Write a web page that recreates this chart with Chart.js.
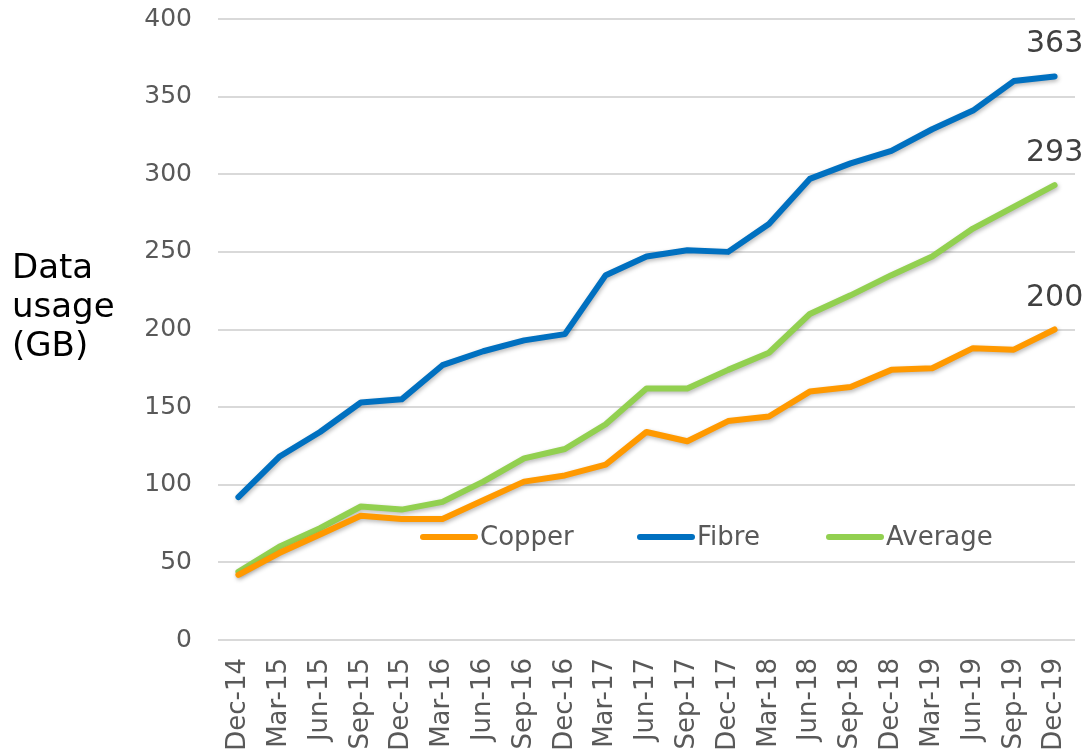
<!DOCTYPE html>
<html>
<head>
<meta charset="utf-8">
<script src="https://cdn.jsdelivr.net/npm/chart.js@4.4.1/dist/chart.umd.min.js"></script>
<style>
  html, body { margin: 0; padding: 0; background: #fff; }
  #wrap { width: 1089px; height: 754px; position: relative; }
</style>
</head>
<body>
<div id="wrap"><canvas id="usageChart" width="1089" height="754"></canvas></div>
<script>
const quarters = ['Dec-14', 'Mar-15', 'Jun-15', 'Sep-15', 'Dec-15', 'Mar-16', 'Jun-16', 'Sep-16', 'Dec-16', 'Mar-17', 'Jun-17',
  'Sep-17', 'Dec-17', 'Mar-18', 'Jun-18', 'Sep-18', 'Dec-18', 'Mar-19', 'Jun-19', 'Sep-19', 'Dec-19'];
const copper = [42, 56, 68, 80, 78, 78, 90, 102, 106, 113, 134, 128, 141, 144, 160, 163, 174, 175, 188, 187, 200];
const fibre = [92, 118, 134, 153, 155, 177, 186, 193, 197, 235, 247, 251, 250, 268, 297, 307, 315, 329, 341, 360, 363];
const average = [44, 60, 72, 86, 84, 89, 102, 117, 123, 139, 162, 162, 174, 185, 210, 222, 235, 247, 265, 279, 293];
const yTicks = [0, 50, 100, 150, 200, 250, 300, 350, 400];
const axisTitle = ['Data', 'usage', '(GB)'];

const FONT = '"DejaVu Sans", Verdana, sans-serif';

// soft shadow under the lines
const shadowPlugin = {
  id: 'lineShadow',
  beforeDatasetDraw(chart) {
    const c = chart.ctx;
    c.save();
    c.shadowColor = 'rgba(0,0,0,0.28)';
    c.shadowBlur = 4;
    c.shadowOffsetX = 1;
    c.shadowOffsetY = 2;
  },
  afterDatasetDraw(chart) {
    chart.ctx.restore();
  }
};

// end-of-line value labels, y-axis title and the in-plot legend
const extrasPlugin = {
  id: 'extras',
  afterDatasetsDraw(chart) {
    const c = chart.ctx;
    c.save();
    // last value above each line
    c.font = '30px ' + FONT;
    c.fillStyle = '#404040';
    c.textAlign = 'center';
    c.textBaseline = 'alphabetic';
    chart.data.datasets.forEach((ds, i) => {
      const meta = chart.getDatasetMeta(i);
      const pt = meta.data[meta.data.length - 1];
      c.fillText(String(ds.data[ds.data.length - 1]), pt.x, pt.y - 24);
    });

    // axis title
    c.font = '34px ' + FONT;
    c.fillStyle = '#000';
    c.textAlign = 'left';
    axisTitle.forEach((t, i) => c.fillText(t, 12, 278 + i * 39));

    // legend inside the plot
    c.font = '26px ' + FONT;
    c.textBaseline = 'middle';
    const items = [[0, 420], [1, 637], [2, 826]];
    items.forEach(([i, x]) => {
      const ds = chart.data.datasets[i];
      c.strokeStyle = ds.borderColor;
      c.lineWidth = 6;
      c.lineCap = 'round';
      c.beginPath();
      c.moveTo(x + 3, 537);
      c.lineTo(x + 55, 537);
      c.stroke();
      c.fillStyle = '#595959';
      c.fillText(ds.label, x + 60, 538);
    });
    c.restore();
  }
};

new Chart(document.getElementById('usageChart'), {
  type: 'line',
  data: {
    labels: quarters,
    datasets: [
      { label: 'Copper', data: copper, borderColor: '#FF9900' },
      { label: 'Fibre', data: fibre, borderColor: '#0070C0' },
      { label: 'Average', data: average, borderColor: '#92D050' }
    ].map(d => Object.assign(d, {
      borderWidth: 6,
      pointRadius: 0,
      tension: 0,
      fill: false,
      borderCapStyle: 'round',
      borderJoinStyle: 'round'
    }))
  },
  options: {
    responsive: false,
    animation: false,
    layout: { padding: { top: 19, right: 14, left: 0, bottom: 0 } },
    plugins: {
      legend: { display: false },
      tooltip: { enabled: false }
    },
    scales: {
      x: {
        offset: true,
        grid: { display: false },
        border: { display: false },
        ticks: {
          color: '#595959',
          font: { family: FONT, size: 26 },
          minRotation: 90,
          maxRotation: 90,
          autoSkip: false,
          padding: 10
        },
        afterFit(scale) {
          scale.height = 114;
          scale.paddingLeft = 0;
          scale.paddingRight = 0;
        }
      },
      y: {
        min: 0,
        max: 400,
        afterBuildTicks(scale) { scale.ticks = yTicks.map(v => ({ value: v })); },
        grid: { color: '#D9D9D9', lineWidth: 2, drawTicks: false },
        border: { display: false },
        ticks: {
          color: '#595959',
          font: { family: FONT, size: 25 },
          padding: 26
        },
        afterFit(scale) {
          scale.width = 218;
          scale.paddingTop = 0;
          scale.paddingBottom = 0;
        }
      }
    }
  },
  plugins: [shadowPlugin, extrasPlugin]
});
</script>
</body>
</html>
